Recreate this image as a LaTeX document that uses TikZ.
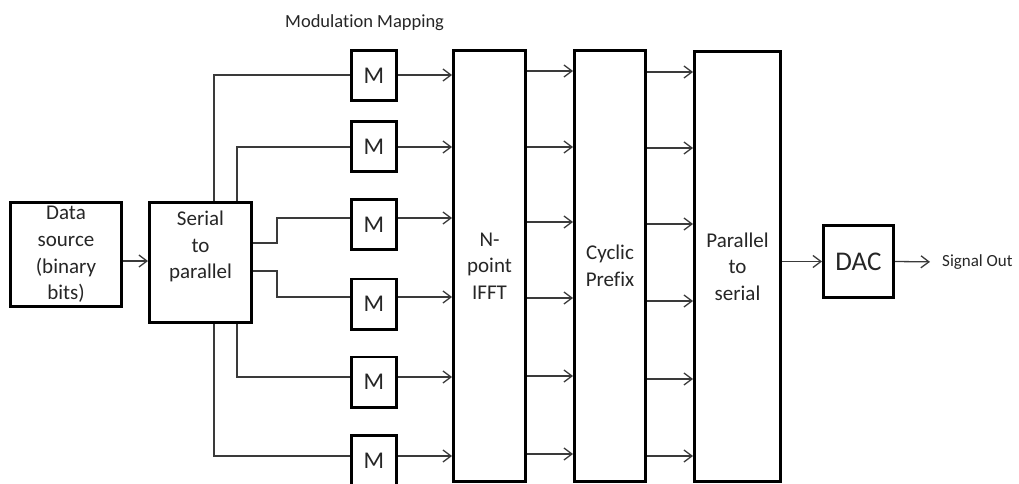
\documentclass[tikz,border=0pt]{standalone}
\usepackage{fontspec}
\setmainfont{Carlito}[Ligatures=NoCommon]
\usetikzlibrary{arrows.meta}
\definecolor{txt}{HTML}{262626}
\definecolor{lin}{HTML}{3A3A3A}
\begin{document}
\begin{tikzpicture}[x=1pt,y=-1pt,
  blk/.style={draw=black, line width=2.6pt, fill=white, inner sep=0pt,
    align=center, text=txt, font=\fontsize{21}{26.7}\selectfont},
  mbox/.style={blk, minimum width=45.4pt, minimum height=50.4pt,
    font=\fontsize{24}{28}\selectfont},
  tall/.style={blk, minimum height=431.4pt},
  conn/.style={draw=lin, line width=1.3pt},
  arr/.style={conn, -{Straight Barb[length=8pt,width=12pt]}},
  lbl/.style={text=txt, inner sep=0pt}]
\useasboundingbox (0,0) rectangle (1019,484);
\clip (0,0) rectangle (1019,484);

% main blocks
\node[blk, minimum width=111.4pt, minimum height=104.4pt] (ds) at (66,254.5)
  {Data\\source\\(binary\\bits)};
\node[blk, minimum width=102.4pt, minimum height=120.4pt,
  label={[lbl, align=center, font=\fontsize{21}{26.7}\selectfont, yshift=16pt]center:{Serial\\to\\parallel}}]
  (sp) at (200.5,262.5) {};
\node[tall, minimum width=72.4pt] (ifft) at (489.5,266) {N-\\point\\IFFT};
\node[tall, minimum width=71.4pt] (cp) at (610,266) {Cyclic\\Prefix};
\node[tall, minimum width=86.4pt, minimum height=430.4pt] (ps) at (737.5,266.5)
  {Parallel\\to\\serial};
\node[blk, minimum width=70.4pt, minimum height=72.4pt,
  font=\fontsize{27}{30}\selectfont] (dac) at (858.5,261.5) {DAC};

% modulation mappers
\foreach \i/\y in {1/75.5, 2/146.5, 3/224.5, 4/304, 5/382, 6/460.5}
  \node[mbox] (m\i) at (374,\y) {M};

\node[lbl, anchor=base west, font=\fontsize{18.5}{22}\selectfont] (title)
  at (285,28) {Modulation Mapping};
\node[lbl, anchor=west, font=\fontsize{17}{20}\selectfont] (sig)
  at (942,262) {Signal Out};

% levels of the mapper lines
\coordinate (t1) at (214,75);
\coordinate (t2) at (237,147);
\coordinate (s3) at (277,243);
\coordinate (t3) at (277,218);
\coordinate (s4) at (277,271);
\coordinate (t4) at (277,297);
\coordinate (t5) at (237,377);
\coordinate (t6) at (214,456);
\coordinate (din) at (0,261);

% data source to serial-to-parallel
\draw[arr] (ds.east |- din) -- (sp.west |- din);

% serial-to-parallel fan-out
\draw[conn] (sp.north -| t1) |- (m1.west |- t1);
\draw[conn] (sp.north -| t2) |- (m2.west |- t2);
\draw[conn] (sp.east |- s3) -- (s3) |- (m3.west |- t3);
\draw[conn] (sp.east |- s4) -- (s4) |- (m4.west |- t4);
\draw[conn] (sp.south -| t5) |- (m5.west |- t5);
\draw[conn] (sp.south -| t6) |- (m6.west |- t6);

% mappers into the IFFT
\foreach \i in {1,...,6}
  \draw[arr] (m\i.east |- t\i) -- (ifft.west |- t\i);

% IFFT to cyclic prefix
\foreach \y [count=\i] in {71,147,222,298,376,454} {
  \coordinate (u\i) at (0,\y);
  \draw[arr] (ifft.east |- u\i) -- (cp.west |- u\i);
}
% cyclic prefix to parallel-to-serial
\foreach \y [count=\i] in {72,148,224,301,379,456} {
  \coordinate (v\i) at (0,\y);
  \draw[arr] (cp.east |- v\i) -- (ps.west |- v\i);
}

% output chain
\draw[arr] (ps.east |- dac.west) -- (dac.west);
\draw[arr, shorten >=12pt] (dac.east) -- (sig.west);
\end{tikzpicture}
\end{document}
